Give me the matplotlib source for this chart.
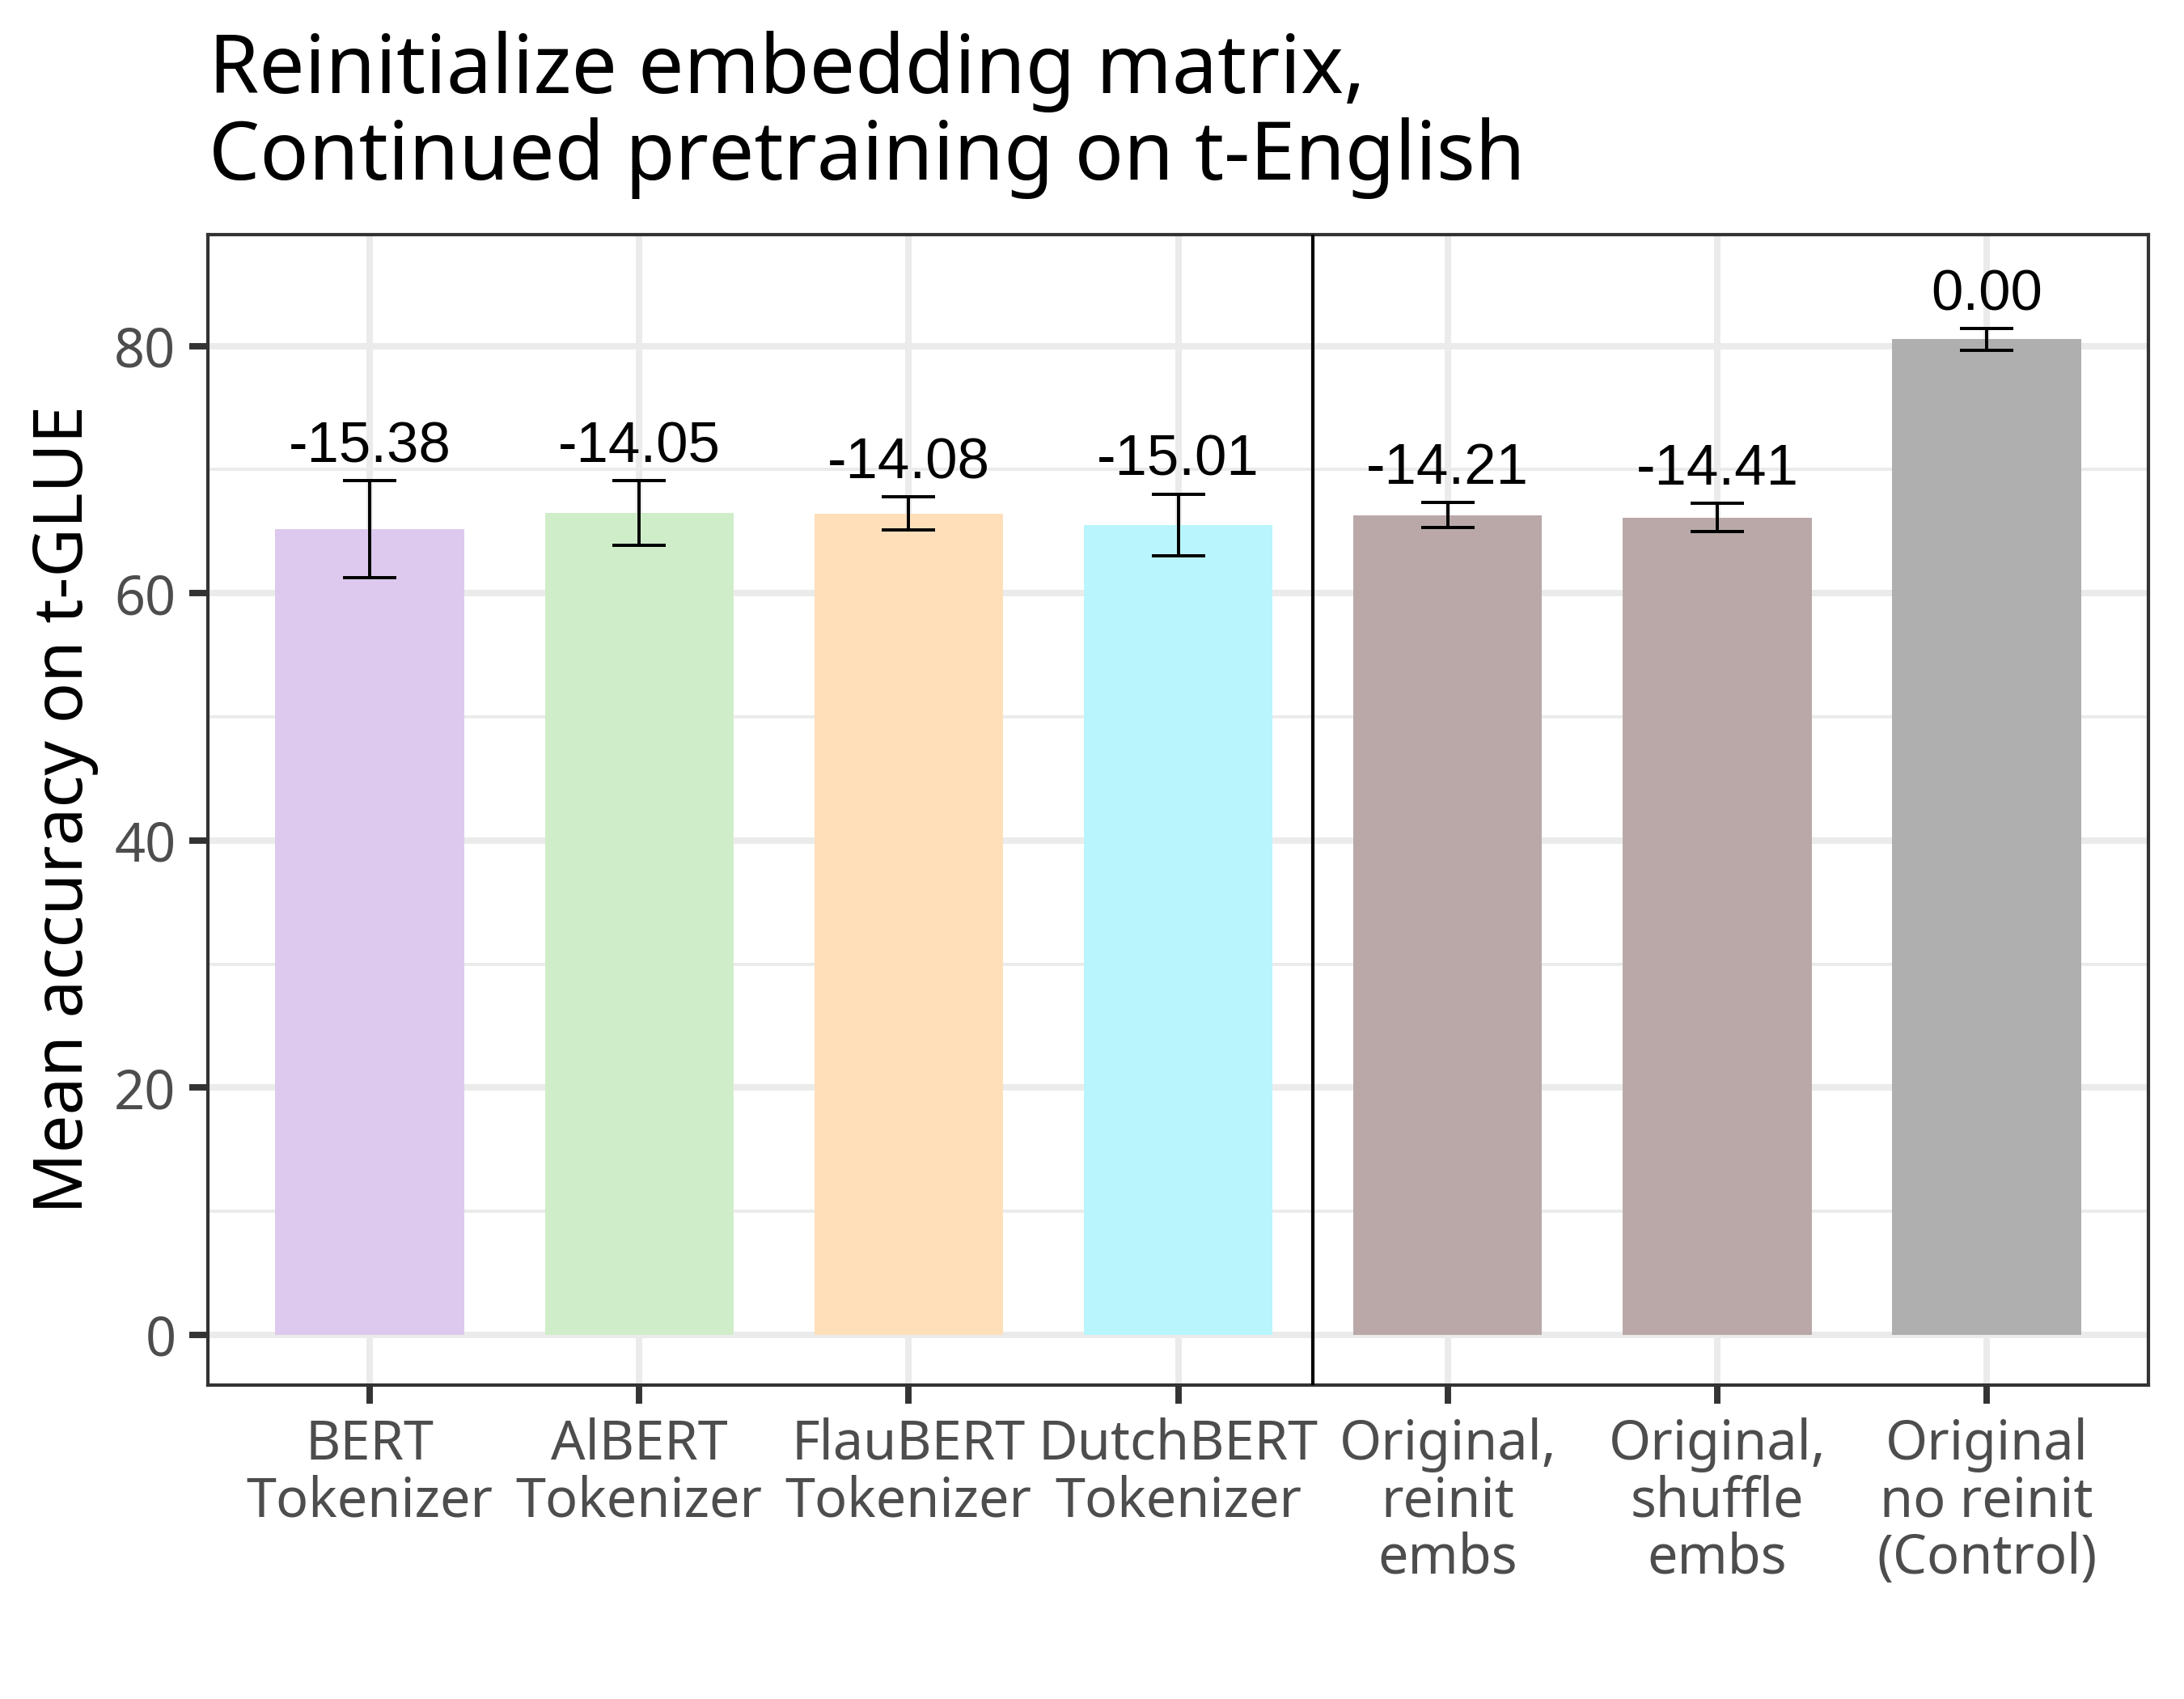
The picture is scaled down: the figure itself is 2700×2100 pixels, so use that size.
import numpy as np
import matplotlib
matplotlib.use("Agg")
import matplotlib.pyplot as plt
from matplotlib.ticker import MultipleLocator

# data
labels = ["BERT\nTokenizer", "AlBERT\nTokenizer", "FlauBERT\nTokenizer",
          "DutchBERT\nTokenizer", "Original,\nreinit\nembs",
          "Original,\nshuffle\nembs", "Original\nno reinit\n(Control)"]
means = [65.15, 66.49, 66.45, 65.52, 66.32, 66.12, 80.53]
errs = [3.93, 2.59, 1.34, 2.49, 1.0, 1.17, 0.87]
diffs = [-15.38, -14.05, -14.08, -15.01, -14.21, -14.41, 0.00]
colors = ["#DDC9ED", "#D0EDCA", "#FEDFB9", "#B9F5FD", "#BAA8A8", "#BAA8A8", "#AFAFAF"]
title_lines = ["Reinitialize embedding matrix,", "Continued pretraining on t-English"]

plt.rcParams["font.family"] = ["Noto Sans", "DejaVu Sans"]

fig = plt.figure(figsize=(9, 7), dpi=300)
ax = fig.add_axes([0.0952, 0.1848, 0.9837 - 0.0952, 0.8619 - 0.1848])

x = np.arange(len(labels))
ax.bar(x, means, width=0.7, color=colors, zorder=2)
ax.errorbar(x, means, yerr=errs, fmt="none", ecolor="black",
            elinewidth=0.95, capsize=8, capthick=0.95, zorder=3)

for xi, m, e, d in zip(x, means, errs, diffs):
    ax.text(xi, m + e + 1.5, f"{d:.2f}", ha="center", va="baseline",
            fontsize=17, family="Liberation Sans", color="black", zorder=4)

ax.axvline(3.5, color="black", lw=1.0, zorder=3)

ax.set_xlim(-0.6, 6.6)
ax.set_ylim(-4.06, 89.0)
ax.set_xticks(x)
ax.set_xticklabels(labels, fontsize=16, color="#4D4D4D", linespacing=1.05)
ax.yaxis.set_major_locator(MultipleLocator(20))
ax.yaxis.set_minor_locator(MultipleLocator(10))
ax.tick_params(axis="y", labelsize=16, labelcolor="#4D4D4D")
ax.tick_params(which="major", length=5.5, width=1.9, color="#333333", pad=4)
ax.tick_params(which="minor", length=0)

ax.grid(which="major", color="#EBEBEB", lw=1.9, zorder=0)
ax.grid(which="minor", axis="y", color="#EBEBEB", lw=0.95, zorder=0)
ax.set_axisbelow(True)
for s in ax.spines.values():
    s.set_color("#333333")
    s.set_linewidth(1.0)

ax.set_ylabel("Mean accuracy on t-GLUE", fontsize=20, labelpad=4.5)

for i, line in enumerate(title_lines):
    fig.text(0.0955, 0.9452 - i * 0.0510, line, fontsize=24,
             ha="left", va="baseline", color="black")

fig.savefig("out.png", dpi=300)
